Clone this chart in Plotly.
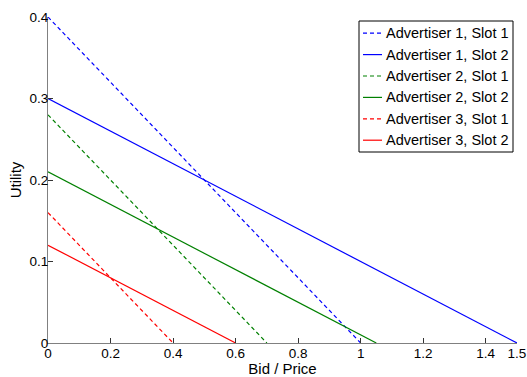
import plotly.graph_objects as go

names = ["Advertiser 1, Slot 1", "Advertiser 1, Slot 2", "Advertiser 2, Slot 1",
         "Advertiser 2, Slot 2", "Advertiser 3, Slot 1", "Advertiser 3, Slot 2"]
x_start = [0, 0, 0, 0, 0, 0]
x_end = [1.0, 1.5, 0.7, 1.05, 0.4, 0.6]
y_start = [0.40, 0.30, 0.28, 0.21, 0.16, 0.12]
y_end = [0, 0, 0, 0, 0, 0]
colors = ["#0000ff", "#0000ff", "#008000", "#008000", "#ff0000", "#ff0000"]
dashes = ["dash", "solid", "dash", "solid", "dash", "solid"]

x_ticks = [0, 0.2, 0.4, 0.6, 0.8, 1.0, 1.2, 1.4, 1.5]
x_ticktext = ["0", "0.2", "0.4", "0.6", "0.8", "1", "1.2", "1.4", "1.5"]
y_ticks = [0, 0.1, 0.2, 0.3, 0.4]
y_ticktext = ["0", "0.1", "0.2", "0.3", "0.4"]

W, H = 527, 377
ML, MR, MT, MB = 48, 10, 17, 34
PW, PH = W - ML - MR, H - MT - MB


def px_x(px):
    return (px - ML) / PW


def px_y(py):
    return (H - MB - py) / PH


def dash_style(d):
    return "4px,3px" if d == "dash" else "solid"


fig = go.Figure()
for i in range(len(names)):
    fig.add_trace(go.Scatter(
        x=[x_start[i], x_end[i]], y=[y_start[i], y_end[i]],
        mode="lines", name=names[i], showlegend=False,
        line=dict(color=colors[i], width=1.2, dash=dash_style(dashes[i])),
    ))

FAM = "Liberation Sans, Arial, sans-serif"
legend_font = dict(family=FAM, size=14.5, color="black")
tick_font = dict(family=FAM, size=13.5, color="black")
title_font = dict(family=FAM, size=15, color="black")

# custom legend (MATLAB style: short line samples)
shapes = [dict(type="rect", xref="paper", yref="paper",
               x0=px_x(359), x1=px_x(513), y0=px_y(152), y1=px_y(21),
               line=dict(color="black", width=1), fillcolor="white", layer="above")]
annotations = []
row0, step = 33.2, 21.4
for i in range(len(names)):
    cy = row0 + i * step
    shapes.append(dict(type="line", xref="paper", yref="paper",
                       x0=px_x(363), x1=px_x(382), y0=px_y(cy), y1=px_y(cy),
                       line=dict(color=colors[i], width=1.2, dash=dash_style(dashes[i])),
                       layer="above"))
    annotations.append(dict(xref="paper", yref="paper", x=px_x(383.5), y=px_y(cy),
                            text=names[i], showarrow=False, xanchor="left", yanchor="middle",
                            font=legend_font))

fig.update_layout(
    width=W, height=H,
    margin=dict(l=ML, r=MR, t=MT, b=MB),
    paper_bgcolor="white", plot_bgcolor="white",
    font=tick_font,
    showlegend=False,
    shapes=shapes, annotations=annotations,
    xaxis=dict(
        range=[0, 1.5], tickvals=x_ticks, ticktext=x_ticktext,
        showgrid=False, zeroline=False, showline=True, linecolor="#808080", linewidth=1,
        ticks="inside", ticklen=5, tickcolor="#333333",
        title=dict(text="Bid / Price", standoff=0, font=title_font),
        tickfont=tick_font, automargin=False, ticklabelstandoff=-2,
        ticklabeloverflow="allow",
    ),
    yaxis=dict(
        range=[0, 0.4], tickvals=y_ticks, ticktext=y_ticktext,
        showgrid=False, zeroline=False, showline=True, linecolor="#808080", linewidth=1,
        ticks="inside", ticklen=5, tickcolor="#333333",
        title=dict(text="Utility", standoff=4, font=title_font),
        tickfont=tick_font, automargin=False, ticklabelstandoff=-4,
        ticklabeloverflow="allow",
    ),
)

fig.write_html("out.html",
               config={"displayModeBar": False},
               post_script="document.body.style.margin='0';document.body.style.padding='0';")
